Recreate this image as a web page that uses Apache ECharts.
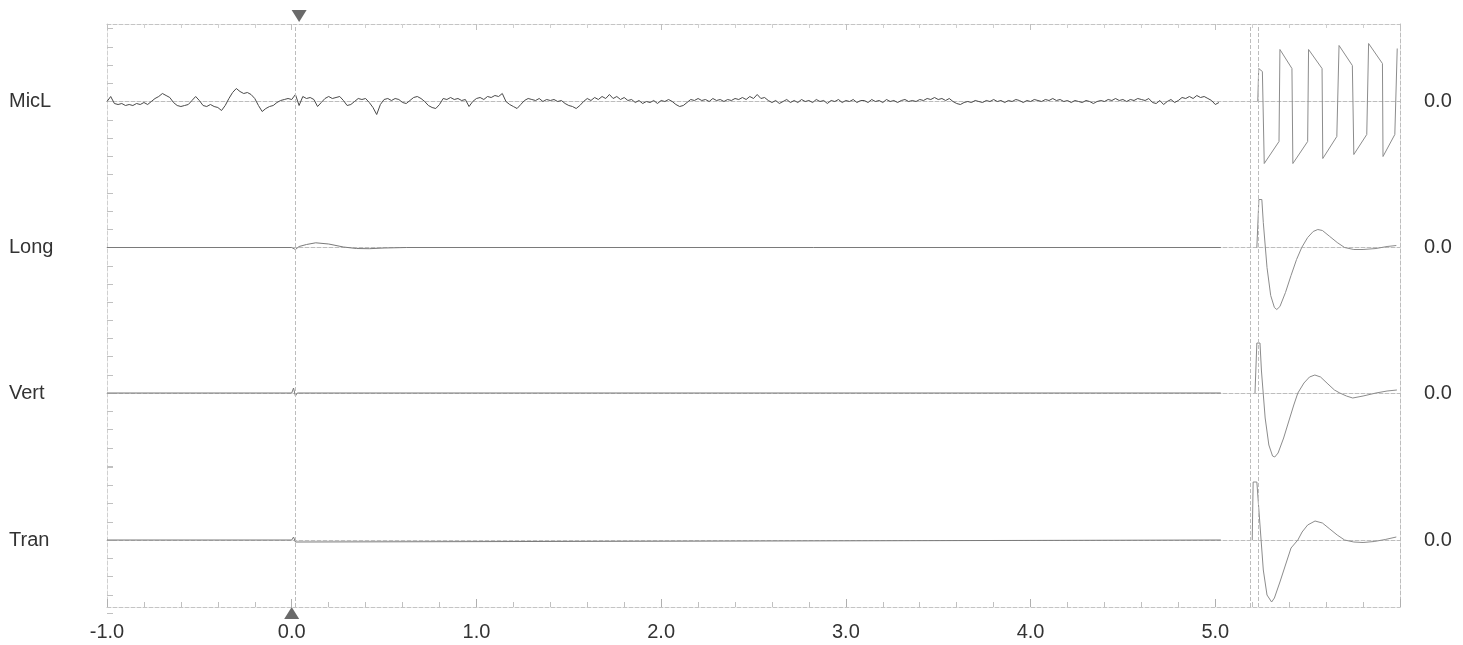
<!DOCTYPE html>
<html>
<head>
<meta charset="utf-8">
<script src="https://cdn.jsdelivr.net/npm/echarts@6/dist/echarts.min.js"></script>
<style>
html,body{margin:0;padding:0;background:#fff;}
#chart{width:1463px;height:645px;}
</style>
</head>
<body>
<div id="chart"></div>
<script>
// ---------- DATA ----------
const channelNames = ['MicL', 'Long', 'Vert', 'Tran'];
const xTickValues = [-1, 0, 1, 2, 3, 4, 5];
const micLStart = -1.0;
const micLStep = 0.02;
// MicL samples (one every 0.02 s from -1.00 s), amplitude
const micLValues = [
  0, 5, -2, -3, -2, -4, -3, -4, -2, -3,
  -1, -3, 0, 3, 5, 8, 6, 4, -1, -4,
  -5, -4, -3, 1, 5, 1, -4, -5, -3, -5,
  -6, -9, -4, 3, 9, 13, 10, 8, 9, 7,
  3, -4, -10, -7, -5, -4, -1, 1, 2, 3,
  2, 7, -4, 5, 3, 4, 2, -5, -1, 3,
  5, 3, 4, 5, 1, -4, -3, 0, 3, 2,
  3, -1, -6, -13, -3, 2, 3, 1, 3, 2,
  -1, -2, 1, 4, 5, 3, 0, -4, -6, -7,
  -3, 3, 2, 4, 2, 3, 1, 2, -5, 0,
  3, 4, 2, 5, 4, 6, 5, 8, 0, -3,
  -5, -7, -3, 1, 3, 2, 1, 3, 0, 2,
  1, 2, 0, 1, -2, -4, -5, -7, -4, 0,
  3, 1, 4, 2, 5, 3, 7, 3, 5, 2,
  4, 1, 2, -1, 1, -2, 0, -1, 1, -2,
  1, 0, 2, 0, -3, -5, -4, -1, 2, 1,
  3, 1, 2, 0, 3, 1, 2, 0, 2, 1,
  3, 2, 4, 2, 5, 3, 7, 3, 4, 1,
  -1, 1, -2, 0, 2, -1, 1, -1, 2, 0,
  1, -1, 2, 0, 1, -2, 1, 0, 2, -1,
  1, 0, 2, -1, 1, 1, -1, 2, 0, 1,
  -1, 2, 0, 1, -1, 1, 2, 0, 1, 0,
  2, 1, 3, 2, 4, 2, 3, 1, 3, 0,
  -2, -3, -1, 0, -1, 1, 0, -1, 1, 0,
  2, 0, 1, -1, 1, 0, 2, 1, -1, 1,
  0, 2, 1, 0, 2, 1, 3, 1, 2, 0,
  1, -1, 1, 0, -1, 1, 0, -2, 0, 1,
  0, 2, 1, 3, 1, 2, 0, 2, 1, 3,
  2, 1, 3, -1, -2, 1, -3, 0, 2, -1,
  1, 4, 3, 5, 3, 6, 4, 5, 3, 1,
  -3, -1
];
const longTrace = [[-1, 0], [0.0, 0], [0.02, -2], [0.04, 1], [0.08, 3], [0.13, 4.7], [0.2, 3.5],
  [0.28, 0.5], [0.35, -1], [0.42, -1.2], [0.5, -0.5], [0.62, 0], [5.03, 0]];
const vertTrace = [[-1, 0], [0.0, 0], [0.01, 5], [0.02, -3], [0.03, 0], [5.03, 0]];
const tranTrace = [[-1, 0], [0.0, 0], [0.01, 3], [0.02, -2], [0.03, 0], [5.03, 0]];

// calibration pulses (right-hand block)
const micLCal = [[5.23, 0], [5.235, 33], [5.255, 30], [5.265, -62], [5.345, -40], [5.35, 52], [5.415, 33],
  [5.42, -62], [5.50, -40], [5.505, 52], [5.578, 33], [5.582, -57], [5.658, -35], [5.67, 56], [5.742, 36],
  [5.75, -53], [5.82, -33], [5.83, 58], [5.905, 38], [5.908, -55], [5.972, -33], [5.985, 53]];
const longCal = [[5.225, 0], [5.236, 48], [5.252, 48], [5.26, 25], [5.28, -20], [5.30, -48], [5.32, -60],
  [5.333, -62], [5.35, -59], [5.38, -45], [5.41, -28], [5.44, -12], [5.468, 0], [5.50, 10], [5.53, 16],
  [5.555, 18], [5.58, 17], [5.62, 11], [5.66, 5], [5.70, 0], [5.75, -2], [5.80, -2], [5.87, -1],
  [5.93, 1], [5.98, 2]];
const vertCal = [[5.215, 0], [5.225, 50], [5.242, 50], [5.25, 22], [5.27, -25], [5.29, -52], [5.31, -63],
  [5.322, -64], [5.34, -60], [5.37, -45], [5.40, -27], [5.425, -12], [5.447, 0], [5.48, 10], [5.51, 16],
  [5.539, 18], [5.57, 16], [5.61, 9], [5.645, 3], [5.674, 0], [5.71, -3], [5.744, -5], [5.80, -3],
  [5.87, 0], [5.93, 2], [5.983, 3]];
const tranCal = [[5.20, 0], [5.205, 58], [5.225, 58], [5.24, 20], [5.26, -30], [5.28, -55], [5.305, -62],
  [5.32, -58], [5.35, -42], [5.38, -25], [5.41, -8], [5.447, 0], [5.47, 8], [5.50, 15], [5.54, 19],
  [5.58, 17], [5.62, 11], [5.66, 5], [5.70, 0], [5.75, -2], [5.80, -2.5], [5.86, -1.5], [5.92, 0.5],
  [5.98, 3]];
const traces = [null, longTrace, vertTrace, tranTrace];
const calibrations = [micLCal, longCal, vertCal, tranCal];
const markerTimes = [0.02, 5.19, 5.23];

// ---------- LAYOUT ----------
const plotLeft = 107, plotRight = 63;
const channelCenters = [101.5, 247.5, 393, 540];
const halfH = 73;
const faint = '#c4c4c4';
const textColor = '#333';
const fontFamily = 'Liberation Sans, Arial, sans-serif';

const micLData = micLValues.map((v, i) => [micLStart + i * micLStep, v]);

const grids = [{ left: plotLeft, right: plotRight, top: 24, bottom: 38 }];
channelCenters.forEach(c => grids.push({ left: plotLeft, right: plotRight, top: c - halfH, height: halfH * 2 }));

const xAxes = [
  { gridIndex: 0, type: 'value', min: -1, max: 6, interval: 1, position: 'bottom',
    axisLine: { onZero: false, lineStyle: { color: faint, type: 'dashed', width: 1 } },
    axisTick: { inside: true, length: 8, lineStyle: { color: '#b0b0b0' } },
    minorTick: { show: true, splitNumber: 5, length: 5, lineStyle: { color: '#c0c0c0' } },
    splitLine: { show: false },
    axisLabel: { color: textColor, fontSize: 20, fontFamily, margin: 15,
      formatter: v => (xTickValues.indexOf(v) >= 0 ? v.toFixed(1) : '') } },
  { gridIndex: 0, type: 'value', min: -1, max: 6, interval: 1, position: 'top',
    axisLine: { onZero: false, lineStyle: { color: faint, type: 'dashed', width: 1 } },
    axisTick: { inside: true, length: 6, lineStyle: { color: '#c0c0c0' } },
    minorTick: { show: true, splitNumber: 5, length: 4, lineStyle: { color: '#d0d0d0' } },
    axisLabel: { show: false }, splitLine: { show: false } }
];
const yAxes = [
  { gridIndex: 0, type: 'value', min: 0, max: 1, position: 'left',
    axisLine: { show: true, onZero: false, lineStyle: { color: '#d0d0d0', type: 'dashed' } },
    axisTick: { show: false }, axisLabel: { show: false }, splitLine: { show: false } },
  { gridIndex: 0, type: 'value', min: 0, max: 1, position: 'right',
    axisLine: { show: true, onZero: false, lineStyle: { color: '#bdbdbd', type: 'dashed' } },
    axisTick: { show: false }, axisLabel: { show: false }, splitLine: { show: false } }
];
channelNames.forEach((name, i) => {
  xAxes.push({ gridIndex: i + 1, type: 'value', min: -1, max: 6,
    axisLine: { show: true, onZero: true, lineStyle: { color: '#bdbdbd', type: 'dashed', width: 1 } },
    axisTick: { show: false }, axisLabel: { show: false }, splitLine: { show: false } });
});
channelNames.forEach((name, i) => {
  yAxes.push({ gridIndex: i + 1, type: 'value', min: -halfH, max: halfH, interval: halfH / 4, position: 'left',
    axisLine: { show: false, onZero: false },
    axisTick: { show: true, inside: true, length: 6, lineStyle: { color: '#c0c0c0' } },
    splitLine: { show: false },
    axisLabel: { show: true, showMinLabel: true, showMaxLabel: true, align: 'left', margin: 98,
      padding: [6, 0, 0, 0], color: textColor, fontSize: 20, fontFamily,
      formatter: v => (v === 0 ? name : '') } });
});
channelNames.forEach((name, i) => {
  yAxes.push({ gridIndex: i + 1, type: 'value', min: -halfH, max: halfH, interval: halfH / 4, position: 'right',
    axisLine: { show: false, onZero: false }, axisTick: { show: false }, splitLine: { show: false },
    axisLabel: { show: true, margin: 24, color: textColor, fontSize: 20, fontFamily,
      formatter: v => (v === 0 ? '0.0' : '') } });
});

const series = [{
  type: 'line', xAxisIndex: 0, yAxisIndex: 0, data: [[-1, 0.5]], symbol: 'none', silent: true,
  lineStyle: { width: 0 },
  markLine: { symbol: 'none', silent: true, label: { show: false },
    lineStyle: { color: '#bdbdbd', type: 'dashed', width: 1 },
    data: markerTimes.map(t => ({ xAxis: t })) },
  markPoint: { silent: true, label: { show: false },
    itemStyle: { color: '#6a6a6a' },
    data: [
      { coord: [0.04, 1], symbol: 'triangle', symbolSize: [15, 12], symbolRotate: 180, symbolOffset: [0, -8] },
      { coord: [0, 0], symbol: 'triangle', symbolSize: [15, 12], symbolOffset: [0, 6] }
    ] }
}];
channelNames.forEach((name, i) => {
  const data = i === 0 ? micLData : traces[i];
  series.push({ type: 'line', name: name, xAxisIndex: i + 2, yAxisIndex: i + 2, data: data,
    symbol: 'none', silent: true, clip: false,
    lineStyle: { color: i === 0 ? '#4a4a4a' : '#7a7a7a', width: 1 } });
  series.push({ type: 'line', name: name + ' cal', xAxisIndex: i + 2, yAxisIndex: i + 2, data: calibrations[i],
    symbol: 'none', silent: true, clip: false,
    lineStyle: { color: '#8c8c8c', width: 1 } });
});

const chart = echarts.init(document.getElementById('chart'), null, { renderer: 'canvas' });
chart.setOption({
  animation: false,
  backgroundColor: '#ffffff',
  grid: grids,
  xAxis: xAxes,
  yAxis: yAxes,
  series: series
});
</script>
</body>
</html>
